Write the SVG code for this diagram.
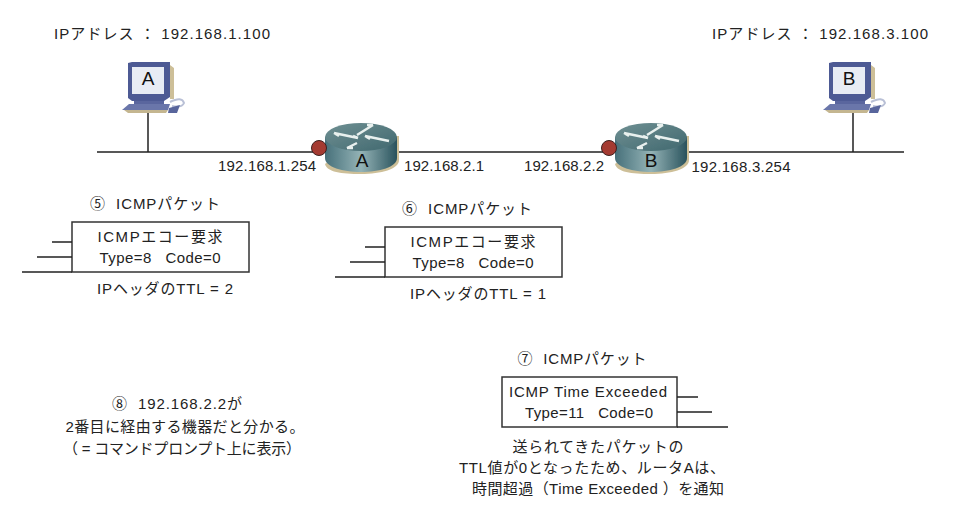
<svg xmlns="http://www.w3.org/2000/svg" width="956" height="526" viewBox="0 0 956 526">
<style>
text{font-family:"Liberation Sans","Noto Sans CJK JP",sans-serif;font-size:15px;fill:#222;text-anchor:middle}
.l{stroke:#222;stroke-width:1.5;fill:none}
.box{stroke:#333;stroke-width:1.5;fill:#fff}
.big{font-size:19px;fill:#111}
</style>
<defs>
<filter id="soft" x="-5%" y="-5%" width="110%" height="110%"><feGaussianBlur stdDeviation="0.5"/></filter>
<linearGradient id="rs" x1="0" x2="1" y1="0" y2="0"><stop offset="0" stop-color="#46707a"/><stop offset=".5" stop-color="#94b3b6"/><stop offset="1" stop-color="#2a535d"/></linearGradient>
<linearGradient id="rt" x1="0" x2="1" y1="0" y2="1"><stop offset="0" stop-color="#6f9093"/><stop offset="1" stop-color="#41686f"/></linearGradient>
<g id="router">
<path d="M0 -12H38V12C38 21 20 26 0 26C-20 26 -34 24 -36 16Z" fill="#cdbf98"/>
<path d="M-36 -11V10C-36 19 -18 24 0 24C18 24 36 19 36 10V-11Z" fill="url(#rs)"/>
<ellipse cx="0" cy="-11" rx="36" ry="14" fill="url(#rt)"/>
<path d="M-27 -15L-3 -10M-3 -10l-5 -2M-27 -15l5 3M-4 -13L12 -23M12 -23h-6M4 -12L28 -7M4 -12l5 3M-4 -5L-14 0M-14 0h6" stroke="#e8f0ee" stroke-width="2.5" fill="none"/>
<circle cx="-42" cy="0" r="7.5" fill="#a43a32" stroke="#3d2020" stroke-width="1"/>
</g>
<g id="pc">
<path d="M10 2H46V36L50 36V5L46 2Z" fill="#cdbf98"/>
<path d="M4 0L8 -1H46V34L40 38H8L4 35Z" fill="#4e5a94"/>
<rect x="8" y="4" width="32" height="27" fill="#e8ecf4"/>
<path d="M10 38H40V41H10Z" fill="#5a669e"/>
<path d="M-2 47L5 41H46L44 47H0Z" fill="#6a76aa"/>
<path d="M0 47H44L42 50H4Z" fill="#c4b690"/>
<path d="M46 39Q58 33 60 40Q58 45 48 43" stroke="#b9c0d6" stroke-width="2" fill="none"/>
<path d="M45 45L56 42L53 50L44 50Z" fill="#59659c"/>
</g>
</defs>
<g id="connectors">
<path class="l" d="M97 152H315M394 152H606M684 152H904M148 113V152M853 113V152"/>
</g>
<g id="pc-a"><use href="#pc" x="124" y="63" filter="url(#soft)"/><text x="148" y="85" class="big">A</text></g>
<g id="pc-b"><use href="#pc" x="825" y="63" filter="url(#soft)"/><text x="849" y="85" class="big">B</text></g>
<g id="router-a"><use href="#router" x="361" y="148" filter="url(#soft)"/><text x="362" y="167" class="big">A</text></g>
<g id="router-b"><use href="#router" x="651" y="148" filter="url(#soft)"/><text x="651" y="167" class="big">B</text></g>
<g id="labels">
<text x="162" y="39" textLength="216">IPアドレス&#160;：&#160;192.168.1.100</text>
<text x="820" y="39" textLength="216">IPアドレス&#160;：&#160;192.168.3.100</text>
<text x="267" y="171" textLength="98">192.168.1.254</text>
<text x="444" y="171" textLength="80">192.168.2.1</text>
<text x="564" y="171" textLength="80">192.168.2.2</text>
<text x="741" y="172" textLength="99">192.168.3.254</text>
</g>
<g id="packet-5">
<text x="155" y="209" textLength="130">⑤&#160;&#160;ICMPパケット</text>
<rect class="box" x="72" y="222" width="177" height="50"/>
<path class="l" d="M52 242H72M37 257H72M22 272H72"/>
<text x="160" y="242" textLength="125">ICMPエコー要求</text>
<text x="160" y="263" textLength="121">Type=8&#160;&#160;&#160;Code=0</text>
<text x="165" y="294" textLength="136">IPヘッダのTTL = 2</text>
</g>
<g id="packet-6">
<text x="467" y="214" textLength="130">⑥&#160;&#160;ICMPパケット</text>
<rect class="box" x="385" y="227" width="177" height="50"/>
<path class="l" d="M365 247H385M350 262H385M335 277H385"/>
<text x="473" y="247" textLength="125">ICMPエコー要求</text>
<text x="473" y="268" textLength="121">Type=8&#160;&#160;&#160;Code=0</text>
<text x="478" y="299" textLength="136">IPヘッダのTTL = 1</text>
</g>
<g id="packet-7">
<text x="582" y="364" textLength="129">⑦&#160;&#160;ICMPパケット</text>
<rect class="box" x="502" y="377" width="175" height="50"/>
<path class="l" d="M677 397H698M677 412H712M677 427H728"/>
<text x="588" y="397" textLength="158">ICMP Time Exceeded</text>
<text x="589" y="418" textLength="128">Type=11&#160;&#160;&#160;Code=0</text>
<text x="598" y="452" textLength="171">送られてきたパケットの</text>
<text x="592" y="473" textLength="266">TTL値が0となったため、ルータAは、</text>
<text x="598" y="494" textLength="252">時間超過（Time Exceeded ）を通知</text>
</g>
<g id="note-8">
<text x="177" y="409" textLength="130">⑧&#160;&#160;192.168.2.2が</text>
<text x="185" y="432" textLength="239">2番目に経由する機器だと分かる。</text>
<text x="182" y="454" textLength="238">（&#160;=&#160;コマンドプロンプト上に表示）</text>
</g>
</svg>
